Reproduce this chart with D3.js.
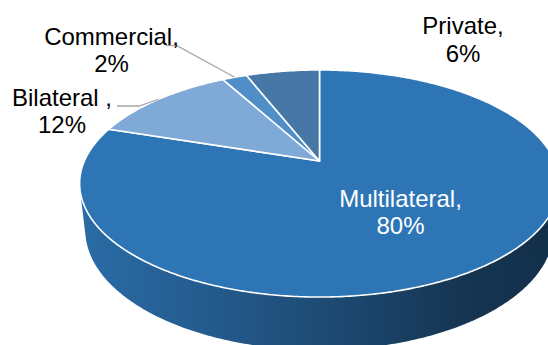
<!DOCTYPE html>
<html>
<head>
<meta charset="utf-8">
<script src="https://cdn.jsdelivr.net/npm/d3@7"></script>
<style>
  html, body { margin: 0; padding: 0; background: #fff; overflow: hidden; }
  text { font-family: "Liberation Sans", Arial, sans-serif; }
</style>
</head>
<body>
<svg id="chart" width="548" height="345"></svg>
<script>
// ---- data ----
const categories = ["Multilateral", "Bilateral", "Commercial", "Private"];
const shares = [80, 12, 2, 6];
const labelNames = ["Multilateral,", "Bilateral ,", "Commercial,", "Private,"];
const sliceColors = ["#2E75B6", "#7FAAD8", "#508EC8", "#4677A6"];

// ---- layout ----
const width = 548, height = 345;
const fontSize = 24, lineStep = 27.4;

// perspective camera looking down on a unit-radius disc
const cam = {
  cx: 319.5, cy: 161,        // screen position of the disc centre
  focal: 1051,
  dist: 4.47,
  elev: Math.asin(0.464),
  thickness: 0.225           // disc height in radius units
};

// label anchors (centre x, first baseline) and leader elbows
const labelLayout = {
  Multilateral: { x: 400.5, y: 206.7, fill: "#ffffff" },
  Bilateral:    { x: 62,    y: 106,   fill: "#000000", leader: [[117, 106], [139, 106]] },
  Commercial:   { x: 111.5, y: 44.5,  fill: "#000000", leader: [[166, 45.7], [177, 45.7]] },
  Private:      { x: 463,   y: 34.3,  fill: "#000000" }
};

function project(x, y, z) {
  const s = Math.sin(cam.elev), c = Math.cos(cam.elev);
  const d = cam.dist - y * s + z * c;
  return [cam.cx + cam.focal * x / d, cam.cy - cam.focal * (y * c + z * s) / d];
}
// angle measured clockwise from 12 o'clock (d3.pie convention)
function rim(a, y = 0, r = 1) {
  return project(r * Math.sin(a), y, r * Math.cos(a));
}
function arcPoints(a0, a1, y) {
  const n = Math.max(2, Math.ceil(Math.abs(a1 - a0) / 0.01));
  return d3.range(n + 1).map(i => rim(a0 + (a1 - a0) * i / n, y));
}

const svg = d3.select("#chart");
const defs = svg.append("defs");

const pie = d3.pie().sort(null).value(d => d).startAngle(0).endAngle(2 * Math.PI);
const slices = pie(shares).map((p, i) => ({
  ...p,
  name: categories[i],
  label: labelNames[i],
  color: sliceColors[i]
}));

const line = d3.line();

// ---- outer wall (front half only is visible) ----
const limit = Math.acos(-1 / (cam.dist * Math.cos(cam.elev)));
const visLo = limit, visHi = 2 * Math.PI - limit;
const bottomY = -cam.thickness;

const wallG = svg.append("g");
slices.forEach((s, i) => {
  const lo = Math.max(s.startAngle, visLo), hi = Math.min(s.endAngle, visHi);
  if (hi <= lo) return;
  const top = arcPoints(lo, hi, 0);
  const bot = arcPoints(hi, lo, bottomY);
  const xs = top.concat(bot).map(p => p[0]);
  const base = d3.rgb(s.color);
  const shade = k => d3.rgb(base.r * k, base.g * k, base.b * k).formatHex();
  const gid = "wall-" + i;
  const g = defs.append("linearGradient").attr("id", gid)
    .attr("gradientUnits", "userSpaceOnUse")
    .attr("x1", d3.min(xs)).attr("x2", d3.max(xs)).attr("y1", 0).attr("y2", 0);
  [[0, 0.92], [0.3, 0.76], [0.6, 0.58], [0.8, 0.45], [1, 0.4]].forEach(([o, k]) =>
    g.append("stop").attr("offset", o).attr("stop-color", shade(k)));
  wallG.append("path")
    .attr("d", line(top.concat(bot)) + "Z")
    .attr("fill", `url(#${gid})`);
});

// ---- top face slices ----
const apex = project(0, 0, 0);
svg.append("g").selectAll("path")
  .data(slices)
  .join("path")
  .attr("d", s => line([apex].concat(arcPoints(s.startAngle, s.endAngle, 0))) + "Z")
  .attr("fill", s => s.color)
  .attr("stroke", "#ffffff")
  .attr("stroke-width", 1.6)
  .attr("stroke-linejoin", "round");

// ---- leader lines ----
const leaderG = svg.append("g");
slices.forEach(s => {
  const lay = labelLayout[s.name];
  if (!lay.leader) return;
  const mid = (s.startAngle + s.endAngle) / 2;
  const pts = lay.leader.concat([rim(mid)]);
  leaderG.append("path")
    .attr("d", line(pts))
    .attr("fill", "none")
    .attr("stroke", "#a6a6a6")
    .attr("stroke-width", 1.3);
});

// ---- labels ----
const labelG = svg.append("g");
slices.forEach(s => {
  const lay = labelLayout[s.name];
  const t = labelG.append("text")
    .attr("text-anchor", "middle")
    .attr("font-size", fontSize)
    .attr("fill", lay.fill);
  t.append("tspan").attr("x", lay.x).attr("y", lay.y).text(s.label);
  t.append("tspan").attr("x", lay.x).attr("y", lay.y + lineStep).text(s.value + "%");
});
</script>
</body>
</html>
